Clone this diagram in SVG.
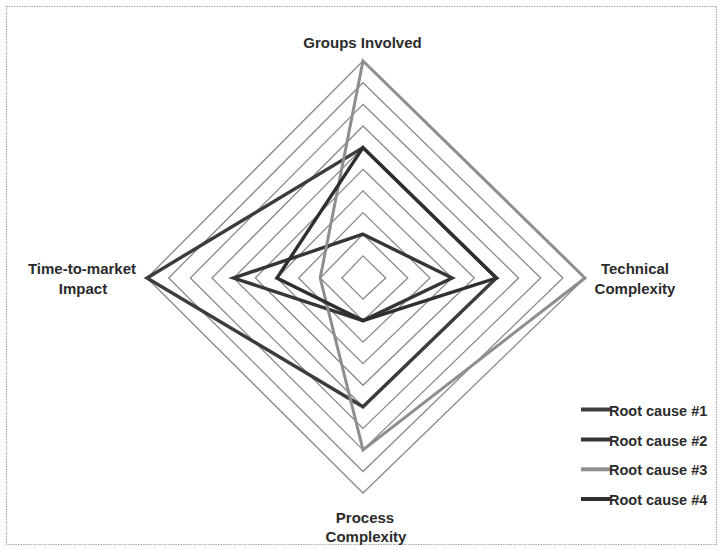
<svg xmlns="http://www.w3.org/2000/svg" width="721" height="550" viewBox="0 0 721 550">
  <style>
    .frame { fill: none; stroke: #a8a8a8; stroke-width: 1.2; stroke-dasharray: 1.5 1; }
    .grid { fill: none; stroke: #8a8a8a; stroke-width: 1.3; stroke-linejoin: miter; }
    .series { fill: none; stroke-width: 3.4; stroke-linejoin: miter; }
    .s1 { stroke: #3c3c3c; }
    .s2 { stroke: #363636; }
    .s3 { stroke: #8e8e8e; stroke-width: 3; }
    .s4 { stroke: #2f2f2f; }
    .axis-label { font-family: "Liberation Sans", Arial, sans-serif; font-size: 15px; font-weight: bold; fill: #2b2b2b; text-anchor: middle; }
    .legend-text { font-family: "Liberation Sans", Arial, sans-serif; font-size: 14.5px; font-weight: bold; fill: #2b2b2b; }
    .legend-line { stroke-width: 4; stroke-linecap: butt; }
  </style>

  <rect width="721" height="550" fill="#ffffff"/>
  <rect class="frame" x="6.5" y="6.5" width="710" height="538"/>

  <!-- radar grid: ten concentric diamonds, one per unit -->
  <g id="grid">
    <polygon class="grid" points="363,255.9 385.7,278 363,299.1 341.9,278"/>
    <polygon class="grid" points="363,234.2 407.8,278 363,320.6 320.2,278"/>
    <polygon class="grid" points="363,212.6 430,278 363,342.2 298.6,278"/>
    <polygon class="grid" points="363,190.9 452.1,278 363,363.7 276.9,278"/>
    <polygon class="grid" points="363,169.3 474.3,278 363,385.3 255.3,278"/>
    <polygon class="grid" points="363,147.6 496.4,278 363,406.8 233.6,278"/>
    <polygon class="grid" points="363,126 518.6,278 363,428.4 212,278"/>
    <polygon class="grid" points="363,104.3 540.7,278 363,449.9 190.3,278"/>
    <polygon class="grid" points="363,82.7 562.9,278 363,471.5 168.7,278"/>
    <polygon class="grid" points="363,61 585,278 363,493 147,278"/>
  </g>

  <!-- data series: Groups Involved, Technical Complexity, Process Complexity, Time-to-market Impact -->
  <g id="connectors">
    <polygon id="series-1" class="series s1" points="363,147.6 496.4,278 363,406.8 147,278"/>
    <polygon id="series-2" class="series s2" points="363,234.2 452.1,278 363,320.6 233.6,278"/>
    <polygon id="series-3" class="series s3" points="363,61 585,278 363,449.9 320.2,278"/>
    <polygon id="series-4" class="series s4" points="363,147.6 496.4,278 363,320.6 276.9,278"/>
  </g>

  <!-- axis labels -->
  <g id="axis-groups-involved">
    <text class="axis-label" x="362.5" y="48">Groups Involved</text>
  </g>
  <g id="axis-technical-complexity">
    <text class="axis-label" x="635" y="274">Technical</text>
    <text class="axis-label" x="635" y="293.5">Complexity</text>
  </g>
  <g id="axis-process-complexity">
    <text class="axis-label" x="365" y="522.5">Process</text>
    <text class="axis-label" x="366" y="541.5">Complexity</text>
  </g>
  <g id="axis-time-to-market">
    <text class="axis-label" x="82" y="274">Time-to-market</text>
    <text class="axis-label" x="83" y="293.5">Impact</text>
  </g>

  <!-- legend -->
  <g id="legend">
    <g id="legend-1">
      <line class="legend-line s1" x1="581" y1="409.5" x2="610" y2="409.5"/>
      <text class="legend-text" x="609" y="415.5">Root cause #1</text>
    </g>
    <g id="legend-2">
      <line class="legend-line s2" x1="581" y1="439.5" x2="610" y2="439.5"/>
      <text class="legend-text" x="609" y="445.5">Root cause #2</text>
    </g>
    <g id="legend-3">
      <line class="legend-line s3" x1="581" y1="469.3" x2="610" y2="469.3" style="stroke-width:4"/>
      <text class="legend-text" x="609" y="475.3">Root cause #3</text>
    </g>
    <g id="legend-4">
      <line class="legend-line s4" x1="581" y1="499" x2="610" y2="499"/>
      <text class="legend-text" x="609" y="505">Root cause #4</text>
    </g>
  </g>
</svg>
